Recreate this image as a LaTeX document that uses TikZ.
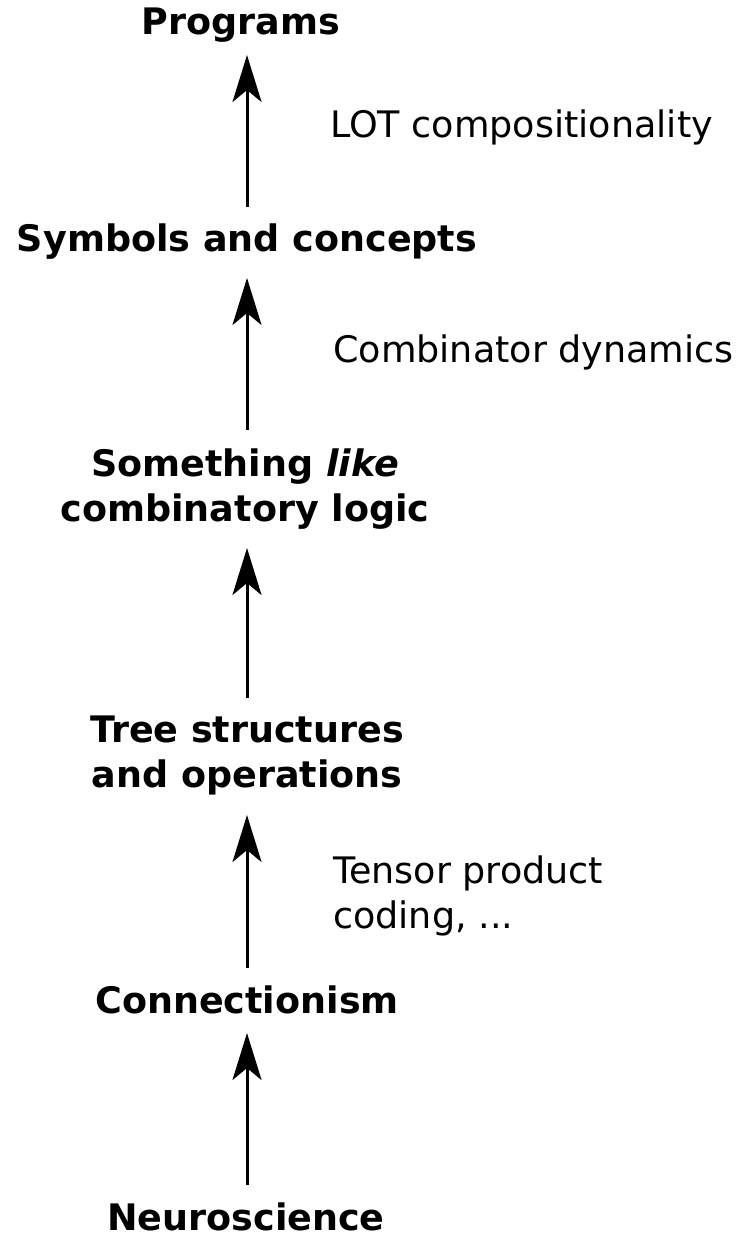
\documentclass[tikz,border=0pt]{standalone}
\usepackage{fontspec}
\setmainfont{DejaVu Sans}
\usetikzlibrary{arrows.meta}
\begin{document}
\begin{tikzpicture}[x=1pt,y=-1pt,
  level/.style={font=\fontsize{36.5}{45}\selectfont\bfseries, align=center, inner sep=0pt},
  note/.style={font=\fontsize{36.5}{45}\selectfont, align=left, anchor=west, inner sep=0pt},
  up/.style={line width=3pt, -{Stealth[length=47pt,width=29pt,inset=12pt]}}]
\useasboundingbox (0,0) rectangle (748,1236);
% levels of description, bottom to top
\node[level] (prog) at (241,25) {Programs};
\node[level] (sym)  at (247,242) {Symbols and concepts};
\node[level] (comb) at (245,489) {Something \textit{like}\\combinatory logic};
\node[level] (tree) at (247,755) {Tree structures\\and operations};
\node[level] (conn) at (247,1000) {Connectionism};
\node[level] (neuro) at (246,1217) {Neuroscience};
% bridging ideas
\node[note] (lot)  at (330,127) {LOT compositionality};
\node[note] (cdyn) at (333,352) {Combinator dynamics};
\node[note] (tpc)  at (333,896) {Tensor product\\coding, ...};
% arrow end points along the central axis
\coordinate (a1s) at (247,207); \coordinate (a1e) at (247,55);
\coordinate (a2s) at (247,430); \coordinate (a2e) at (247,278);
\coordinate (a3s) at (247,698); \coordinate (a3e) at (247,548);
\coordinate (a4s) at (247,968); \coordinate (a4e) at (247,815);
\coordinate (a5s) at (247,1185); \coordinate (a5e) at (247,1033);
\draw[up] (a1s) -- (a1e);
\draw[up] (a2s) -- (a2e);
\draw[up] (a3s) -- (a3e);
\draw[up] (a4s) -- (a4e);
\draw[up] (a5s) -- (a5e);
\end{tikzpicture}
\end{document}
